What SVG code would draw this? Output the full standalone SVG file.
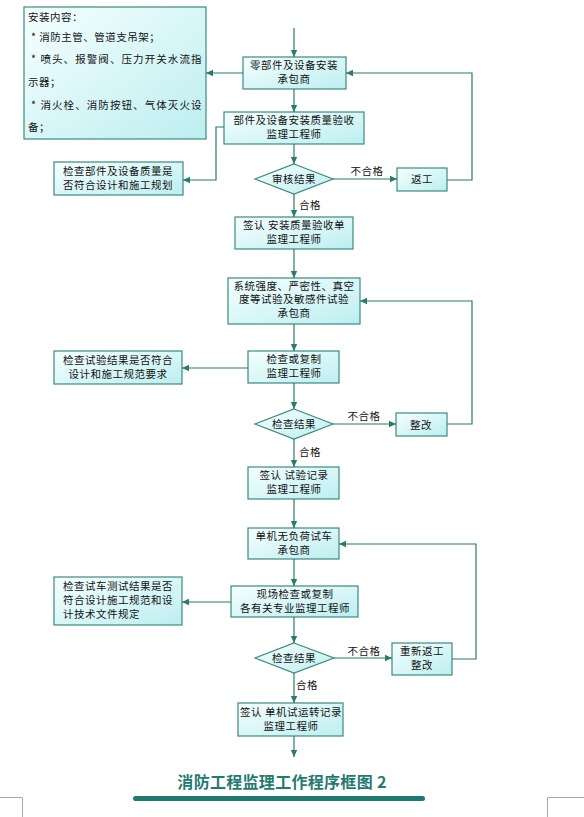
<svg xmlns="http://www.w3.org/2000/svg" width="584" height="817" viewBox="0 0 584 817">
<defs>
<linearGradient id="g" x1="0" y1="0" x2="1" y2="1">
<stop offset="0" stop-color="#f6ffff"/>
<stop offset="1" stop-color="#bdeef0"/>
</linearGradient>
<marker id="ah" markerUnits="userSpaceOnUse" markerWidth="8" markerHeight="8" refX="7" refY="4" orient="auto">
<path d="M0,0.8 L7,4 L0,7.2 Z" fill="#2a7a6e"/>
</marker>
<style>
.b{fill:url(#g);stroke:#3b8a80;stroke-width:1.2}
.t{font-family:"Noto Sans CJK SC","Noto Sans",sans-serif;font-size:10.5px;letter-spacing:0.5px;fill:#111;text-anchor:middle}
.l{font-family:"Noto Sans CJK SC","Noto Sans",sans-serif;font-size:10.5px;letter-spacing:0.5px;fill:#111}
.c{fill:none;stroke:#2a7a6e;stroke-width:1.2}
.a{marker-end:url(#ah)}
</style>
</defs>
<rect width="584" height="817" fill="#fff"/>

<g id="info">
<rect class="b" x="24" y="7" width="182" height="132"/>
<text class="l" x="28" y="21">安装内容：</text>
<text class="l" x="31" y="41">*  消防主管、管道支吊架；</text>
<text class="l" x="31" y="63" textLength="171">*  喷头、报警阀、压力开关水流指</text>
<text class="l" x="28" y="86">示器；</text>
<text class="l" x="31" y="109" textLength="171">*  消火栓、消防按钮、气体灭火设</text>
<text class="l" x="28" y="131">备；</text>
</g>

<g id="n1">
<rect class="b" x="243" y="57" width="103" height="32"/>
<text class="t" x="294" y="69">零部件及设备安装</text>
<text class="t" x="294" y="83">承包商</text>
</g>
<g id="n2">
<rect class="b" x="224" y="112" width="140" height="32"/>
<text class="t" x="294" y="124">部件及设备安装质量验收</text>
<text class="t" x="294" y="138">监理工程师</text>
</g>
<g id="s1">
<rect class="b" x="54" y="162" width="129" height="33"/>
<text class="t" x="118" y="174.5">检查部件及设备质量是</text>
<text class="t" x="118" y="188.5">否符合设计和施工规划</text>
</g>
<g id="d1">
<polygon class="b" points="294,164 333,179 294,194 255,179"/>
<text class="t" x="294" y="183">审核结果</text>
</g>
<g id="r1">
<rect class="b" x="397" y="168" width="50" height="23"/>
<text class="t" x="422" y="183">返工</text>
</g>
<g id="n3">
<rect class="b" x="235" y="217" width="118" height="32"/>
<text class="t" x="294" y="229">签认 安装质量验收单</text>
<text class="t" x="294" y="243">监理工程师</text>
</g>
<g id="n4">
<rect class="b" x="228" y="278" width="132" height="46"/>
<text class="t" x="294" y="289.5">系统强度、严密性、真空</text>
<text class="t" x="294" y="303">度等试验及敏感件试验</text>
<text class="t" x="294" y="316.5">承包商</text>
</g>
<g id="n5">
<rect class="b" x="248" y="351" width="91" height="32"/>
<text class="t" x="294" y="363">检查或复制</text>
<text class="t" x="294" y="377">监理工程师</text>
</g>
<g id="s2">
<rect class="b" x="54" y="351" width="128" height="33"/>
<text class="t" x="118" y="363.5">检查试验结果是否符合</text>
<text class="t" x="118" y="377.5">设计和施工规范要求</text>
</g>
<g id="d2">
<polygon class="b" points="294,409 333,424 294,439 255,424"/>
<text class="t" x="294" y="428">检查结果</text>
</g>
<g id="r2">
<rect class="b" x="396" y="413" width="51" height="23"/>
<text class="t" x="421" y="429">整改</text>
</g>
<g id="n6">
<rect class="b" x="248" y="467" width="91" height="32"/>
<text class="t" x="294" y="479">签认 试验记录</text>
<text class="t" x="294" y="493">监理工程师</text>
</g>
<g id="n7">
<rect class="b" x="248" y="528" width="91" height="31"/>
<text class="t" x="294" y="539.5">单机无负荷试车</text>
<text class="t" x="294" y="553.5">承包商</text>
</g>
<g id="n8">
<rect class="b" x="231" y="586" width="127" height="31"/>
<text class="t" x="295" y="597.5">现场检查或复制</text>
<text class="t" x="295" y="611.5">各有关专业监理工程师</text>
</g>
<g id="s3">
<rect class="b" x="54" y="577" width="128" height="48"/>
<text class="l" x="63" y="590">检查试车测试结果是否</text>
<text class="l" x="63" y="604">符合设计施工规范和设</text>
<text class="l" x="63" y="618">计技术文件规定</text>
</g>
<g id="d3">
<polygon class="b" points="294,643 334,658 294,673 255,658"/>
<text class="t" x="294" y="662">检查结果</text>
</g>
<g id="r3">
<rect class="b" x="392" y="643" width="60" height="32"/>
<text class="t" x="422" y="655">重新返工</text>
<text class="t" x="422" y="669">整改</text>
</g>
<g id="n9">
<rect class="b" x="238" y="703" width="105" height="33"/>
<text class="t" x="291" y="715.5">签认 单机试运转记录</text>
<text class="t" x="291" y="729.5">监理工程师</text>
</g>

<g id="connectors">
<path class="c a" d="M294,28 V57"/>
<path class="c a" d="M294,89 V112"/>
<path class="c a" d="M294,144 V164"/>
<path class="c a" d="M294,194 V217"/>
<path class="c a" d="M294,249 V278"/>
<path class="c a" d="M294,324 V351"/>
<path class="c a" d="M294,383 V409"/>
<path class="c a" d="M294,439 V467"/>
<path class="c a" d="M294,499 V528"/>
<path class="c a" d="M294,559 V586"/>
<path class="c a" d="M294,617 V643"/>
<path class="c a" d="M294,673 V703"/>
<path class="c a" d="M294,736 V757"/>
<path class="c a" d="M243,73 H206"/>
<path class="c a" d="M224,127 H216 V180 H183"/>
<path class="c a" d="M333,179 H397"/>
<path class="c a" d="M447,180 H472 V73 H346"/>
<path class="c a" d="M248,368 H182"/>
<path class="c a" d="M333,424 H396"/>
<path class="c a" d="M447,424 H472 V301 H360"/>
<path class="c a" d="M231,602 H182"/>
<path class="c a" d="M334,658 H392"/>
<path class="c a" d="M452,659 H476 V544 H339"/>
<text class="t" x="367" y="175">不合格</text>
<text class="t" x="310" y="209">合格</text>
<text class="t" x="364" y="420">不合格</text>
<text class="t" x="310" y="456">合格</text>
<text class="t" x="364" y="655">不合格</text>
<text class="t" x="307" y="689">合格</text>
</g>

<text x="282" y="788" text-anchor="middle" font-family="'Noto Sans CJK SC','Noto Sans',sans-serif" font-size="16" font-weight="bold" letter-spacing="0.3" fill="#1f7b72">消防工程监理工作程序框图 2</text>
<rect x="133" y="796" width="292" height="5" rx="2.5" fill="#1c7a6f"/>
<path d="M0,797.5 H22.5 V817 M584,797.5 H547.5 V817" fill="none" stroke="#aaa" stroke-width="1"/>
</svg>
